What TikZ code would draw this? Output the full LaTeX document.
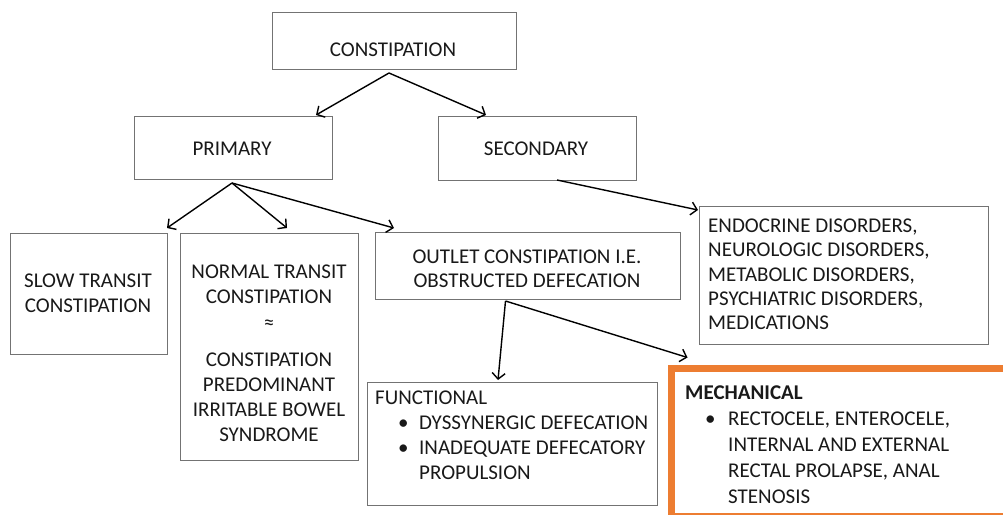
\documentclass[tikz,border=0pt]{standalone}
\usepackage{fontspec}
\setmainfont{Carlito}
\usetikzlibrary{arrows.meta}
\definecolor{mechorange}{HTML}{ED7D31}
\tikzset{
  box/.style={draw=black!55, line width=0.9pt, anchor=north west, inner sep=0pt, outer sep=0pt},
  mechbox/.style={draw=mechorange, line width=7pt, anchor=north west, inner sep=0pt, outer sep=0pt},
  txt/.style={inner sep=0pt, text=black!90, font=\fontsize{21}{25}\selectfont},
  arr/.style={-{Straight Barb[length=6pt,width=13pt]}, line width=1.4pt},
}
\newcommand{\bul}[1]{\makebox[#1][l]{\textbullet}}
\begin{document}
\begin{tikzpicture}[x=1pt,y=-1pt]
\useasboundingbox (0,0) rectangle (1003,514);
\clip (0,0) rectangle (1003,514);
\fill[white] (0,0) rectangle (1003,514);
\node[box, minimum width=244pt, minimum height=57pt] (con) at (272,12) {};
\node[box, minimum width=198pt, minimum height=63pt] (prim) at (134,116) {};
\node[box, minimum width=198pt, minimum height=64pt] (sec) at (438,116) {};
\node[box, minimum width=157pt, minimum height=121pt] (slow) at (10,233) {};
\node[box, minimum width=178pt, minimum height=227pt] (normal) at (180,233) {};
\node[box, minimum width=305pt, minimum height=67pt] (outlet) at (375,232) {};
\node[box, minimum width=289pt, minimum height=138pt] (endo) at (699,206) {};
\node[box, minimum width=290pt, minimum height=123pt] (func) at (367,382) {};
\node[mechbox, minimum width=345pt, minimum height=148pt] (mech) at (671.5,368.5) {};
\node[txt, anchor=north] (contxt) at (393,42.7) {CONSTIPATION};
\node[txt, anchor=north] (primtxt) at (232,141.7) {PRIMARY};
\node[txt, anchor=north] (sectxt) at (536,141.7) {SECONDARY};
\node[txt, anchor=north, align=center] (slowtxt) at (88,273.7) {SLOW TRANSIT\\CONSTIPATION};
\node[txt, anchor=north, align=center] (normaltxt) at (269,264.7) {NORMAL TRANSIT\\CONSTIPATION\\[1pt]≈\\[12pt]CONSTIPATION\\PREDOMINANT\\IRRITABLE BOWEL\\SYNDROME};
\node[txt, anchor=north, align=center, font=\fontsize{21}{24}\selectfont] (outlettxt) at (527,249.7) {OUTLET CONSTIPATION I.E.\\OBSTRUCTED DEFECATION};
\node[txt, anchor=north west, align=left, font=\fontsize{21}{24.3}\selectfont] (endotxt) at (708,218.7) {ENDOCRINE DISORDERS,\\NEUROLOGIC DISORDERS,\\METABOLIC DISORDERS,\\PSYCHIATRIC DISORDERS,\\MEDICATIONS};
\node[txt, anchor=north west, align=left] (functxt) at (375,390.7) {FUNCTIONAL\\\hspace*{23pt}\bul{21pt}DYSSYNERGIC DEFECATION\\\hspace*{23pt}\bul{21pt}INADEQUATE DEFECATORY\\\hspace*{44pt}PROPULSION};
\node[txt, anchor=north west, align=left, font=\fontsize{21}{26}\selectfont] (mechtxt) at (685,385.7) {\textbf{MECHANICAL}\\\hspace*{20pt}\bul{23pt}RECTOCELE, ENTEROCELE,\\\hspace*{43pt}INTERNAL AND EXTERNAL\\\hspace*{43pt}RECTAL PROLAPSE, ANAL\\\hspace*{43pt}STENOSIS};
\draw[arr] ([xshift=-5pt,yshift=-4pt]con.south) -- ([xshift=83pt,yshift=1pt]prim.north);
\draw[arr] ([xshift=-5pt,yshift=-4pt]con.south) -- ([xshift=-51pt,yshift=1pt]sec.north);
\draw[arr] ([xshift=-1pt,yshift=-4pt]prim.south) -- ([yshift=5pt]slow.north east);
\draw[arr] ([xshift=-1pt,yshift=-4pt]prim.south) -- ([xshift=18pt,yshift=5pt]normal.north);
\draw[arr] ([xshift=-1pt,yshift=-4pt]prim.south) -- ([xshift=19pt,yshift=4pt]outlet.north west);
\draw[arr] ([xshift=20pt]sec.south) -- ([xshift=-1pt,yshift=-4pt]endo.north west);
\draw[arr] ([xshift=-22pt,yshift=-2pt]outlet.south) -- ([xshift=-14pt,yshift=2pt]func.north);
\draw[arr] ([xshift=-22pt,yshift=-2pt]outlet.south) -- ([xshift=16pt,yshift=11pt]mech.north west);
\end{tikzpicture}
\end{document}
